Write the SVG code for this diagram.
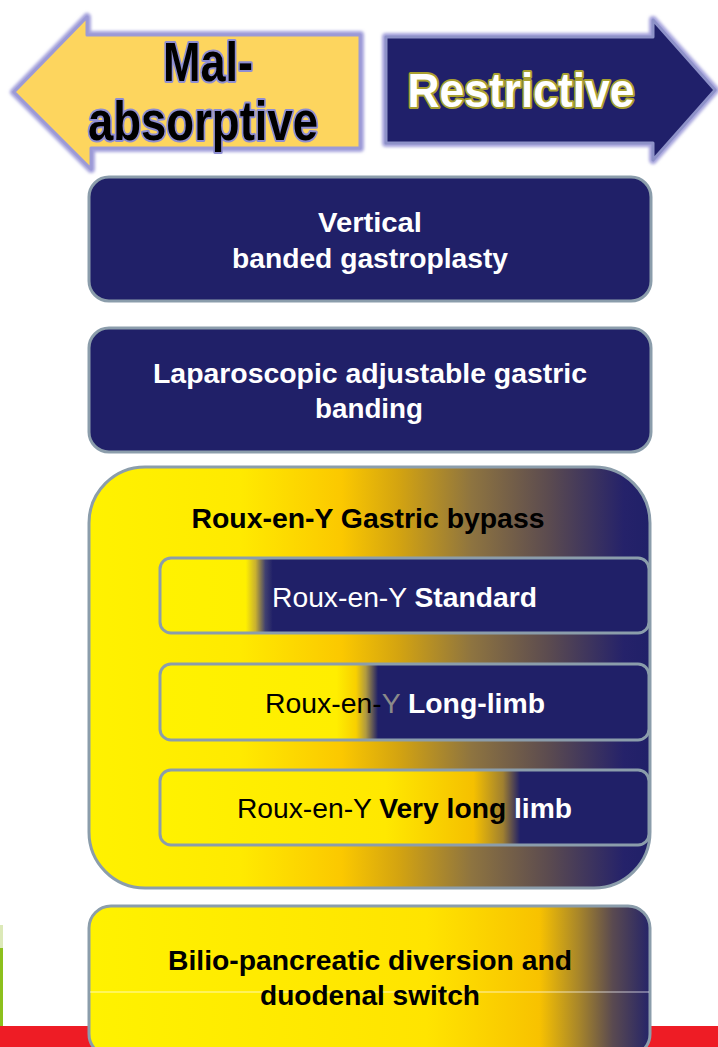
<svg xmlns="http://www.w3.org/2000/svg" width="718" height="1047" viewBox="0 0 718 1047">
<defs>
<style>
.box{stroke:#8b9dab;stroke-width:3}
.t{font-family:"Liberation Sans",Arial,sans-serif;font-weight:bold;font-size:28px}
.big{font-size:56px}
.rest{font-size:48px}
.n{font-weight:normal}
.w{fill:#ffffff}
.k{fill:#000000}
</style>
<filter id="soft" x="-10%" y="-10%" width="120%" height="120%"><feGaussianBlur stdDeviation="1.5"/></filter>
<linearGradient id="gBig" gradientUnits="userSpaceOnUse" x1="88" y1="0" x2="652" y2="0">
<stop offset="0" stop-color="#fff200"/>
<stop offset="0.27" stop-color="#ffea00"/>
<stop offset="0.45" stop-color="#fbc800"/>
<stop offset="0.55" stop-color="#d4a410"/>
<stop offset="0.68" stop-color="#8e7440"/>
<stop offset="0.82" stop-color="#5a4a50"/>
<stop offset="0.95" stop-color="#25226a"/>
<stop offset="1" stop-color="#202068"/>
</linearGradient>
<linearGradient id="gA" gradientUnits="userSpaceOnUse" x1="160" y1="0" x2="650" y2="0">
<stop offset="0" stop-color="#fff200"/>
<stop offset="0.175" stop-color="#fff000"/>
<stop offset="0.195" stop-color="#c8b030"/>
<stop offset="0.215" stop-color="#404070"/>
<stop offset="0.23" stop-color="#202068"/>
<stop offset="1" stop-color="#202068"/>
</linearGradient>
<linearGradient id="gB" gradientUnits="userSpaceOnUse" x1="160" y1="0" x2="650" y2="0">
<stop offset="0" stop-color="#fff200"/>
<stop offset="0.36" stop-color="#ffee00"/>
<stop offset="0.40" stop-color="#f8d000"/>
<stop offset="0.42" stop-color="#b09a40"/>
<stop offset="0.445" stop-color="#202068"/>
<stop offset="1" stop-color="#202068"/>
</linearGradient>
<linearGradient id="gC" gradientUnits="userSpaceOnUse" x1="160" y1="0" x2="650" y2="0">
<stop offset="0" stop-color="#fff200"/>
<stop offset="0.46" stop-color="#ffe800"/>
<stop offset="0.64" stop-color="#f5c000"/>
<stop offset="0.70" stop-color="#a08030"/>
<stop offset="0.735" stop-color="#202068"/>
<stop offset="1" stop-color="#202068"/>
</linearGradient>
<linearGradient id="gD" gradientUnits="userSpaceOnUse" x1="88" y1="0" x2="652" y2="0">
<stop offset="0" stop-color="#fff200"/>
<stop offset="0.6" stop-color="#ffe400"/>
<stop offset="0.8" stop-color="#f8c200"/>
<stop offset="0.87" stop-color="#a8862a"/>
<stop offset="0.93" stop-color="#5a4a50"/>
<stop offset="1" stop-color="#22226a"/>
</linearGradient>
</defs>
<rect width="718" height="1047" fill="#ffffff"/>
<g id="background">
<rect x="0" y="1026" width="718" height="21" fill="#ee1c25"/>
<rect x="0" y="925" width="3" height="23" fill="#dce9b8"/>
<rect x="0" y="948" width="3" height="78" fill="#8cc01c"/>
</g>
<g id="connectors"/>
<g id="arrow-malabsorptive">
<polygon points="14,92 87,17 87,35 360,35 360,148 91,148 91,169" fill="#a4a2dc" stroke="#a4a2dc" stroke-width="8" stroke-linejoin="round" filter="url(#soft)"/>
<polygon points="14,92 87,17 87,35 360,35 360,148 91,148 91,169" fill="#fdd55e" stroke="#9c9ad6" stroke-width="3" stroke-linejoin="round"/>
<text class="t big" x="208" y="81" text-anchor="middle" textLength="90" lengthAdjust="spacingAndGlyphs" fill="#000" stroke="#8e8ed2" stroke-width="4" stroke-linejoin="round" paint-order="stroke">Mal-</text>
<text class="t big" x="203" y="140" text-anchor="middle" textLength="230" lengthAdjust="spacingAndGlyphs" fill="#000" stroke="#8e8ed2" stroke-width="4" stroke-linejoin="round" paint-order="stroke">absorptive</text>
</g>
<g id="arrow-restrictive">
<polygon points="386,37 653,37 653,20 715,90 653,160 653,143 386,143" fill="#a4a2dc" stroke="#a4a2dc" stroke-width="8" stroke-linejoin="round" filter="url(#soft)"/>
<polygon points="386,37 653,37 653,20 715,90 653,160 653,143 386,143" fill="#20206a" stroke="#8e92c8" stroke-width="3" stroke-linejoin="round"/>
<text class="t rest" x="521" y="107" text-anchor="middle" textLength="227" lengthAdjust="spacingAndGlyphs" fill="#ffffff" stroke="#a8a030" stroke-width="4" stroke-linejoin="round" paint-order="stroke">Restrictive</text>
</g>
<g id="node-vbg">
<rect class="box" x="89" y="177" width="562" height="124" rx="20" fill="#202068"/>
<text class="t w" x="370" y="232" text-anchor="middle" textLength="104" lengthAdjust="spacingAndGlyphs">Vertical</text>
<text class="t w" x="370" y="268" text-anchor="middle" textLength="276" lengthAdjust="spacingAndGlyphs">banded gastroplasty</text>
</g>
<g id="node-lagb">
<rect class="box" x="89" y="328" width="562" height="124" rx="20" fill="#202068"/>
<text class="t w" x="370" y="383" text-anchor="middle" textLength="434" lengthAdjust="spacingAndGlyphs">Laparoscopic adjustable gastric</text>
<text class="t w" x="369" y="418" text-anchor="middle" textLength="108" lengthAdjust="spacingAndGlyphs">banding</text>
</g>
<g id="node-rygb">
<rect class="box" x="89" y="467" width="561" height="421" rx="56" fill="url(#gBig)"/>
<text class="t k" x="368" y="528" text-anchor="middle" textLength="353" lengthAdjust="spacingAndGlyphs">Roux-en-Y Gastric bypass</text>
</g>
<g id="node-standard">
<rect class="box" x="160" y="558" width="489" height="75" rx="11" fill="url(#gA)"/>
<text class="t w" x="272" y="607" textLength="265" lengthAdjust="spacingAndGlyphs"><tspan class="n">Roux-en-Y </tspan>Standard</text>
</g>
<g id="node-longlimb">
<rect class="box" x="160" y="664" width="489" height="76" rx="11" fill="url(#gB)"/>
<text class="t" x="265" y="713" textLength="280" lengthAdjust="spacingAndGlyphs"><tspan class="n" fill="#000000">Roux-en-</tspan><tspan class="n" fill="#8a8a8a">Y </tspan><tspan fill="#ffffff">Long-limb</tspan></text>
</g>
<g id="node-verylong">
<rect class="box" x="160" y="770" width="489" height="75" rx="11" fill="url(#gC)"/>
<text class="t" x="237" y="818" textLength="335" lengthAdjust="spacingAndGlyphs"><tspan class="n" fill="#000000">Roux-en-Y </tspan><tspan fill="#000000">Very long </tspan><tspan fill="#ffffff">limb</tspan></text>
</g>
<g id="node-bpd">
<rect class="box" x="89" y="906" width="561" height="150" rx="22" fill="url(#gD)"/>
<line x1="90" y1="992" x2="649" y2="992" stroke="#ffffff" stroke-opacity="0.7" stroke-width="1"/>
<text class="t k" x="370" y="970" text-anchor="middle" textLength="404" lengthAdjust="spacingAndGlyphs">Bilio-pancreatic diversion and</text>
<text class="t k" x="370" y="1005" text-anchor="middle" textLength="220" lengthAdjust="spacingAndGlyphs">duodenal switch</text>
</g>
</svg>
